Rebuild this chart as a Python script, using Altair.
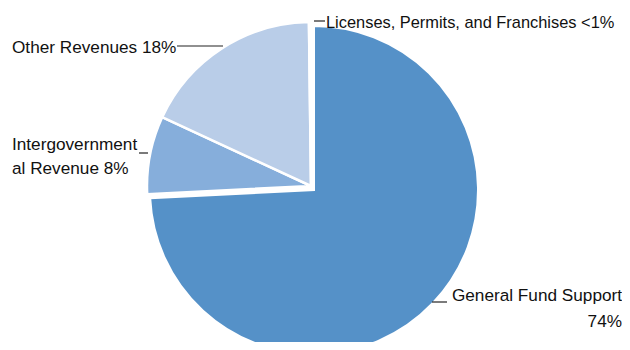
import altair as alt
import pandas as pd

categories = ["General Fund Support", "Intergovernmental Revenue", "Other Revenues",
              "Licenses, Permits, and Franchises"]
values = [74.2, 7.7, 17.9, 0.2]
order = [0, 1, 2, 3]
label_texts = ["General Fund Support\n74%", "Intergovernment\nal Revenue 8%",
               "Other Revenues 18%", "Licenses, Permits, and Franchises <1%"]
colors = ["#5591c8", "#86aedb", "#b9cde8", "#3d74b4"]

df = pd.DataFrame({"category": categories, "value": values, "order": order, "label": label_texts})
total = sum(values)

FONT = "Liberation Sans, Arial"

base = alt.Chart(df).transform_window(
    end="sum(value)", sort=[alt.SortField("order")], frame=[None, 0]
).transform_calculate(start="datum.end - datum.value")

theta_scale = alt.Scale(domain=[0, total], range=[0, 6.283185307179586])
color = alt.Color("category:N", scale=alt.Scale(domain=categories, range=colors), legend=None)

others = base.transform_filter("datum.order > 0").mark_arc(
    radius=164, stroke="white", strokeWidth=2.5, xOffset=0, yOffset=11
).encode(theta=alt.Theta("start:Q", scale=theta_scale), theta2="end:Q", color=color)

gf = base.transform_filter("datum.order == 0").mark_arc(
    radius=164, stroke="white", strokeWidth=2, xOffset=3, yOffset=15
).encode(theta=alt.Theta("start:Q", scale=theta_scale), theta2="end:Q", color=color)


def label(i, x, y, align, lh, lx1, lx2, ly, size=17.2):
    t = base.transform_filter(f"datum.order == {i}").mark_text(
        align=align, baseline="alphabetic", font=FONT, fontSize=size, color="#111111",
        lineBreak="\n", lineHeight=lh
    ).encode(text="label:N", x=alt.value(x), y=alt.value(y))
    r = base.transform_filter(f"datum.order == {i}").mark_rule(
        color="#222222", strokeWidth=1.2
    ).encode(x=alt.value(lx1), x2=alt.value(lx2), y=alt.value(ly))
    return [t, r]


layers = [others, gf]
layers += label(0, 614, 293, "right", 26, 424, 439, 294)
layers += label(1, 4, 142, "left", 24, 131, 140, 145)
layers += label(2, 4, 45, "left", 24, 169, 215, 38)
layers += label(3, 318, 20, "left", 24, 306, 317, 13, size=16.4)

chart = alt.layer(*layers).properties(
    width=606, height=334,
    padding={"left": 0, "top": 0, "right": 8, "bottom": 0},
    autosize=alt.AutoSizeParams(type="none")
).configure_view(stroke=None)

chart.save("out.html", embed_options={"renderer": "svg", "actions": False})
